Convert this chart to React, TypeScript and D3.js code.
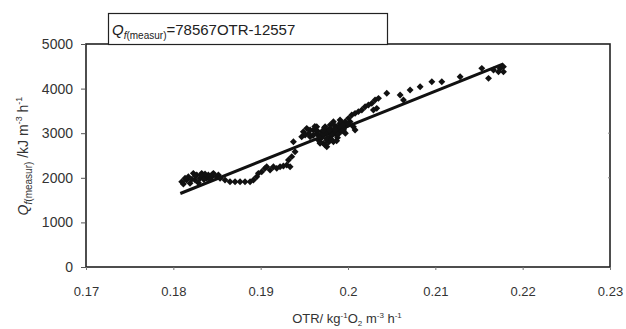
import { useEffect, useRef } from "react";
import * as d3 from "d3";

// OTR (kg O2 m^-3 h^-1) vs measured heat Q_f (kJ m^-3 h^-1)
const otrValues = [
  0.18096, 0.18134, 0.18172, 0.18191, 0.18229, 0.18268, 0.18249, 0.18306, 0.18325, 0.18344,
  0.18382, 0.18401, 0.1844, 0.18459, 0.18497, 0.18516, 0.18535, 0.18115, 0.1821, 0.18287,
  0.18363, 0.1842, 0.1815, 0.1825, 0.1835, 0.1845, 0.1832,
  0.18592, 0.18649, 0.18707, 0.18764, 0.18821, 0.18879, 0.18917,
  0.18955, 0.18974, 0.19012, 0.1905, 0.19069, 0.19108, 0.19146, 0.19184, 0.19222, 0.1926,
  0.19299, 0.19318, 0.19337, 0.19356, 0.19394, 0.19375,
  0.19489, 0.19528, 0.19566, 0.19604, 0.19642, 0.1968, 0.19718, 0.19757, 0.19699, 0.19738,
  0.19795, 0.19833, 0.19871, 0.19909, 0.19948, 0.19986, 0.20024, 0.20062, 0.20081, 0.20043,
  0.20081, 0.20119, 0.20158, 0.20196, 0.20234, 0.20272, 0.2031, 0.20329, 0.20291, 0.19757,
  0.19795, 0.19871, 0.19833, 0.1968, 0.19718, 0.19776, 0.19814, 0.19852, 0.1989, 0.19928,
  0.19967, 0.19661, 0.19738, 0.19909, 0.20005, 0.19642, 0.19566, 0.19509, 0.1947,
  0.1955, 0.196, 0.1965, 0.197, 0.1975, 0.198, 0.1985, 0.199, 0.1995, 0.1978,
  0.1988, 0.1968, 0.1992, 0.1997, 0.2, 0.1962, 0.1973, 0.1983,
  0.1967, 0.1971, 0.1976, 0.1979, 0.1982, 0.1986, 0.1989, 0.1993, 0.1972, 0.1981,
  0.1987, 0.1994,
  0.20349, 0.20444, 0.20597, 0.20635, 0.20711, 0.20826, 0.2096, 0.21074, 0.21284, 0.21532,
  0.21609, 0.21666, 0.21742, 0.2178, 0.2178, 0.21723,
];
const qValues = [
  1913, 1988, 2025, 1876, 2100, 2063, 1950, 1988, 2100, 2025,
  1988, 2063, 2025, 2100, 2025, 2063, 1988, 1861, 1965, 1891,
  2085, 1965, 1950, 2040, 1960, 2080, 2060,
  1950, 1913, 1913, 1913, 1913, 1913, 1950,
  2025, 2100, 2137, 2212, 2249, 2175, 2249, 2212, 2249, 2264,
  2287, 2399, 2249, 2474, 2586, 2810,
  3034, 3109, 2922, 3071, 2997, 2885, 2772, 2847, 3034, 3146,
  3184, 3258, 3146, 3221, 3071, 3184, 3258, 3146, 3071, 3408,
  3445, 3483, 3520, 3595, 3632, 3669, 3744, 3557, 3520, 2698,
  2922, 2959, 2810, 2772, 2959, 3071, 3034, 3109, 3034, 3146,
  3258, 2847, 2735, 3296, 3333, 3146, 3071, 2959, 2922,
  3000, 2950, 3050, 2900, 3000, 3100, 3000, 3150, 3100, 2800,
  2900, 2800, 3250, 3000, 3200, 3150, 3120, 3200,
  2930, 2980, 2880, 3060, 2960, 3080, 2980, 3050, 3060, 2860,
  2830, 3180,
  3781, 3894, 3856, 3744, 3968, 4043, 4155, 4155, 4267, 4454,
  4230, 4417, 4454, 4379, 4492, 4379,
];

const xTicks = [0.17, 0.18, 0.19, 0.2, 0.21, 0.22, 0.23];
const yTicks = [0, 1000, 2000, 3000, 4000, 5000];
const fitSlope = 78567;
const fitIntercept = -12557;
const fitRange = [0.1808, 0.2178];

const W = 626;
const H = 329;
const plot = { left: 86, right: 610, top: 44, bottom: 267 };
const font = "'Liberation Sans', Arial, sans-serif";

export default function App() {
  const ref = useRef<SVGSVGElement>(null);

  useEffect(() => {
    if (!ref.current) return;
    const svg = d3.select(ref.current);
    svg.selectAll("*").remove();

    const x = d3.scaleLinear().domain([0.17, 0.23]).range([plot.left, plot.right]);
    const y = d3.scaleLinear().domain([0, 5000]).range([plot.bottom, plot.top]);

    // plot frame
    svg.append("rect")
      .attr("x", plot.left).attr("y", plot.top)
      .attr("width", plot.right - plot.left).attr("height", plot.bottom - plot.top)
      .attr("fill", "none").attr("stroke", "#222").attr("stroke-width", 1.6);

    // y axis
    const yAxis = svg.append("g")
      .attr("transform", `translate(${plot.left},0)`)
      .call(d3.axisLeft(y).tickValues(yTicks).tickSize(5).tickPadding(8).tickFormat(d3.format("d")));
    yAxis.select(".domain").remove();
    yAxis.selectAll("line").attr("stroke", "#555");
    yAxis.selectAll("text").attr("font-family", font).attr("font-size", 14).attr("fill", "#333");

    // x axis
    const xAxis = svg.append("g")
      .attr("transform", `translate(0,${plot.bottom})`)
      .call(d3.axisBottom(x).tickValues(xTicks).tickSize(3).tickPadding(17)
        .tickFormat(d => String(+(+d).toFixed(2))));
    xAxis.select(".domain").remove();
    xAxis.selectAll("line").attr("stroke", "#777");
    xAxis.selectAll("text").attr("font-family", font).attr("font-size", 13).attr("fill", "#333");

    // right-side minor ticks
    svg.append("g")
      .selectAll("line")
      .data([2000, 3000])
      .join("line")
      .attr("x1", plot.right - 2).attr("x2", plot.right)
      .attr("y1", d => y(d)).attr("y2", d => y(d))
      .attr("stroke", "#888");

    // fit line
    svg.append("line")
      .attr("x1", x(fitRange[0])).attr("y1", y(fitSlope * fitRange[0] + fitIntercept))
      .attr("x2", x(fitRange[1])).attr("y2", y(fitSlope * fitRange[1] + fitIntercept))
      .attr("stroke", "#111").attr("stroke-width", 3);

    // points
    const diamond = d3.symbol().type(d3.symbolSquare).size(24)();
    svg.append("g")
      .selectAll("path")
      .data(otrValues.map((o, i) => [o, qValues[i]]))
      .join("path")
      .attr("d", diamond)
      .attr("transform", d => `translate(${x(d[0])},${y(d[1])}) rotate(45)`)
      .attr("fill", "#111");

    // equation box
    svg.append("rect")
      .attr("x", 108.5).attr("y", 13.5).attr("width", 279).attr("height", 31)
      .attr("fill", "#fff").attr("stroke", "#222").attr("stroke-width", 1.2);
    const eq = svg.append("text")
      .attr("x", 112).attr("y", 35)
      .attr("font-family", font).attr("font-size", 15).attr("fill", "#222");
    eq.append("tspan").attr("font-style", "italic").text("Q");
    eq.append("tspan").attr("font-size", 10).attr("dy", 4).attr("font-style", "italic").text("f");
    eq.append("tspan").attr("font-size", 10).text("(measur)");
    eq.append("tspan").attr("dy", -4).text("=78567OTR-12557");

    // x title
    const xt = svg.append("text")
      .attr("x", 347).attr("y", 323).attr("text-anchor", "middle")
      .attr("font-family", font).attr("font-size", 13).attr("fill", "#333");
    xt.append("tspan").text("OTR/ kg");
    xt.append("tspan").attr("font-size", 8).attr("dy", -5).text("-1");
    xt.append("tspan").attr("dy", 5).text("O");
    xt.append("tspan").attr("font-size", 8).attr("dy", 3).text("2");
    xt.append("tspan").attr("dy", -3).text(" m");
    xt.append("tspan").attr("font-size", 8).attr("dy", -5).text("-3");
    xt.append("tspan").attr("dy", 5).text(" h");
    xt.append("tspan").attr("font-size", 8).attr("dy", -5).text("-1");

    // y title
    const yt = svg.append("text")
      .attr("transform", "translate(28,156) rotate(-90)")
      .attr("text-anchor", "middle")
      .attr("font-family", font).attr("font-size", 14).attr("fill", "#333");
    yt.append("tspan").attr("font-style", "italic").text("Q");
    yt.append("tspan").attr("font-size", 10).attr("dy", 4).attr("font-style", "italic").text("f");
    yt.append("tspan").attr("font-size", 10).text("(measur)");
    yt.append("tspan").attr("dy", -4).text(" /kJ m");
    yt.append("tspan").attr("font-size", 9).attr("dy", -6).text("-3");
    yt.append("tspan").attr("dy", 6).text(" h");
    yt.append("tspan").attr("font-size", 9).attr("dy", -6).text("-1");
  }, []);

  return (
    <svg
      ref={ref}
      width={W}
      height={H}
      style={{ position: "absolute", left: 0, top: 0, background: "#fff" }}
    />
  );
}
